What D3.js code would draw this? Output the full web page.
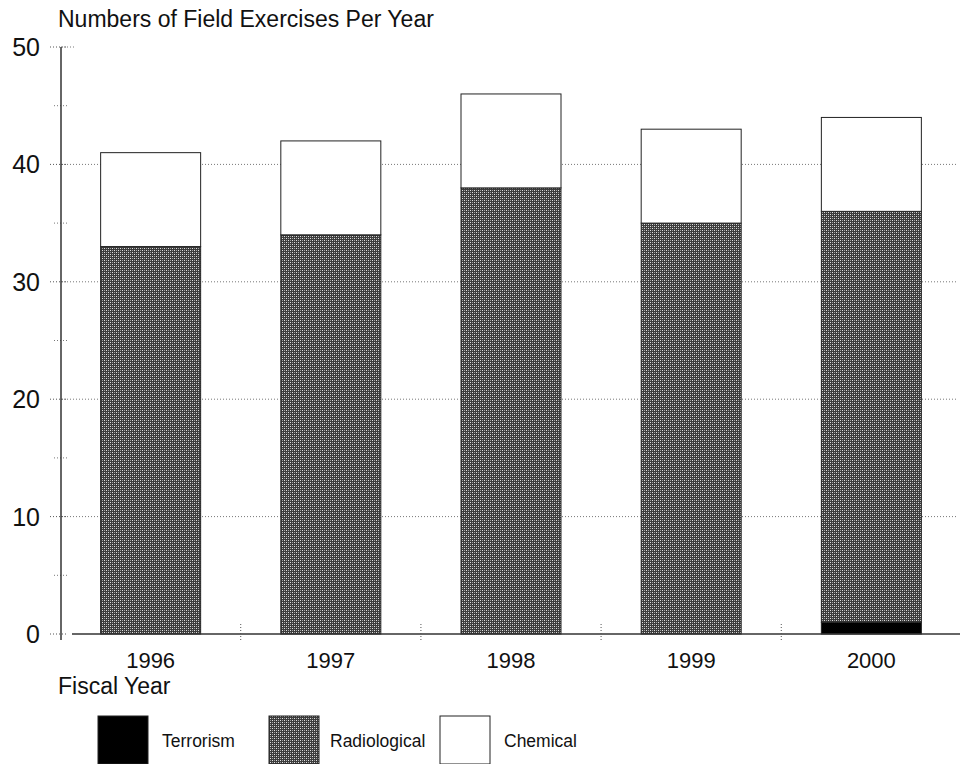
<!DOCTYPE html>
<html>
<head>
<meta charset="utf-8">
<script src="https://cdn.jsdelivr.net/npm/d3@7"></script>
<style>
  body { margin: 0; background: #fff; }
  svg text { font-family: "Liberation Sans", Arial, sans-serif; fill: #111; }
</style>
</head>
<body>
<div id="chart"></div>
<script>
const svgWidth = 967;
const svgHeight = 764;

const years = ["1996", "1997", "1998", "1999", "2000"];
const terrorism = [0, 0, 0, 0, 1];
const radiological = [33, 34, 38, 35, 35];
const chemical = [8, 8, 8, 8, 8];
const seriesNames = ["Terrorism", "Radiological", "Chemical"];
const yTicks = [0, 10, 20, 30, 40, 50];

const svg = d3.select("#chart").append("svg")
  .attr("width", svgWidth)
  .attr("height", svgHeight);

// halftone-ish fill for the radiological bars
const defs = svg.append("defs");
const pat = defs.append("pattern")
  .attr("id", "halftone")
  .attr("width", 4).attr("height", 4)
  .attr("patternUnits", "userSpaceOnUse");
pat.append("rect").attr("width", 4).attr("height", 4).attr("fill", "#3c3c3c");
pat.append("rect").attr("x", 0).attr("y", 0).attr("width", 1).attr("height", 1).attr("fill", "#e0e0e0");
pat.append("rect").attr("x", 2).attr("y", 2).attr("width", 1).attr("height", 1).attr("fill", "#e0e0e0");
pat.append("rect").attr("x", 2).attr("y", 0).attr("width", 1).attr("height", 1).attr("fill", "#a0a0a0");
pat.append("rect").attr("x", 0).attr("y", 2).attr("width", 1).attr("height", 1).attr("fill", "#a0a0a0");

const fills = { Terrorism: "#000", Radiological: "url(#halftone)", Chemical: "#fff" };

const x = d3.scaleBand().domain(years).range([61, 961]).paddingInner(0.445).paddingOuter(0.22);
const y = d3.scaleLinear().domain([0, 50]).range([634, 47]);

// dotted gridlines
svg.append("g")
  .selectAll("line")
  .data(yTicks.filter(d => d > 0))
  .join("line")
  .attr("x1", 61).attr("x2", d => d === 50 ? 75 : 958)
  .attr("y1", d => y(d)).attr("y2", d => y(d))
  .attr("stroke", "#777").attr("stroke-width", 1)
  .attr("stroke-dasharray", "1,2");

// minor ticks at 5s
svg.append("g")
  .selectAll("line")
  .data(d3.range(5, 50, 10))
  .join("line")
  .attr("x1", 54).attr("x2", 68)
  .attr("y1", d => y(d)).attr("y2", d => y(d))
  .attr("stroke", "#777").attr("stroke-dasharray", "1,2");

// stacked bars
const table = years.map((yr, i) => ({
  year: yr, Terrorism: terrorism[i], Radiological: radiological[i], Chemical: chemical[i]
}));
const stacked = d3.stack().keys(seriesNames)(table);

svg.append("g")
  .selectAll("g")
  .data(stacked)
  .join("g")
  .attr("fill", d => fills[d.key])
  .selectAll("rect")
  .data(d => d.filter(s => s[1] > s[0]))
  .join("rect")
  .attr("x", d => x(d.data.year))
  .attr("y", d => y(d[1]))
  .attr("width", x.bandwidth())
  .attr("height", d => y(d[0]) - y(d[1]))
  .attr("stroke", "#222")
  .attr("stroke-width", 1);

// y axis line
svg.append("line")
  .attr("x1", 61).attr("x2", 61).attr("y1", 47).attr("y2", 640)
  .attr("stroke", "#333").attr("stroke-width", 1.5);

// x axis line
svg.append("line")
  .attr("x1", 72).attr("x2", 960).attr("y1", y(0)).attr("y2", y(0))
  .attr("stroke", "#333").attr("stroke-width", 1.5);

// y tick marks and labels
svg.append("g")
  .selectAll("line")
  .data(yTicks)
  .join("line")
  .attr("x1", 50).attr("x2", 68)
  .attr("y1", d => y(d)).attr("y2", d => y(d))
  .attr("stroke", "#555").attr("stroke-dasharray", "1,2");

svg.append("g")
  .selectAll("text")
  .data(yTicks)
  .join("text")
  .attr("x", 40)
  .attr("y", d => y(d) + 9)
  .attr("text-anchor", "end")
  .attr("font-size", "25px")
  .text(d => d);

// x dividers between bars
const step = x.step();
svg.append("g")
  .selectAll("line")
  .data(years.slice(1))
  .join("line")
  .attr("x1", d => x(d) - (step - x.bandwidth()) / 2)
  .attr("x2", d => x(d) - (step - x.bandwidth()) / 2)
  .attr("y1", y(0) - 10).attr("y2", y(0) + 8)
  .attr("stroke", "#555").attr("stroke-dasharray", "1,2");

// year labels
svg.append("g")
  .selectAll("text")
  .data(years)
  .join("text")
  .attr("x", d => x(d) + x.bandwidth() / 2)
  .attr("y", 668)
  .attr("text-anchor", "middle")
  .attr("font-size", "22px")
  .text(d => d);

svg.append("text")
  .attr("x", 58).attr("y", 27)
  .attr("font-size", "23px")
  .text("Numbers of Field Exercises Per Year");

svg.append("text")
  .attr("x", 58).attr("y", 694)
  .attr("font-size", "23px")
  .text("Fiscal Year");

// legend
const legendX = [98, 269, 440];
const legend = svg.append("g");
seriesNames.forEach((name, i) => {
  legend.append("rect")
    .attr("x", legendX[i]).attr("y", 716)
    .attr("width", 50).attr("height", 48)
    .attr("fill", fills[name])
    .attr("stroke", "#222");
  legend.append("text")
    .attr("x", legendX[i] + (i === 1 ? 61 : 64))
    .attr("y", 747)
    .attr("font-size", "17.5px")
    .text(name);
});
</script>
</body>
</html>
